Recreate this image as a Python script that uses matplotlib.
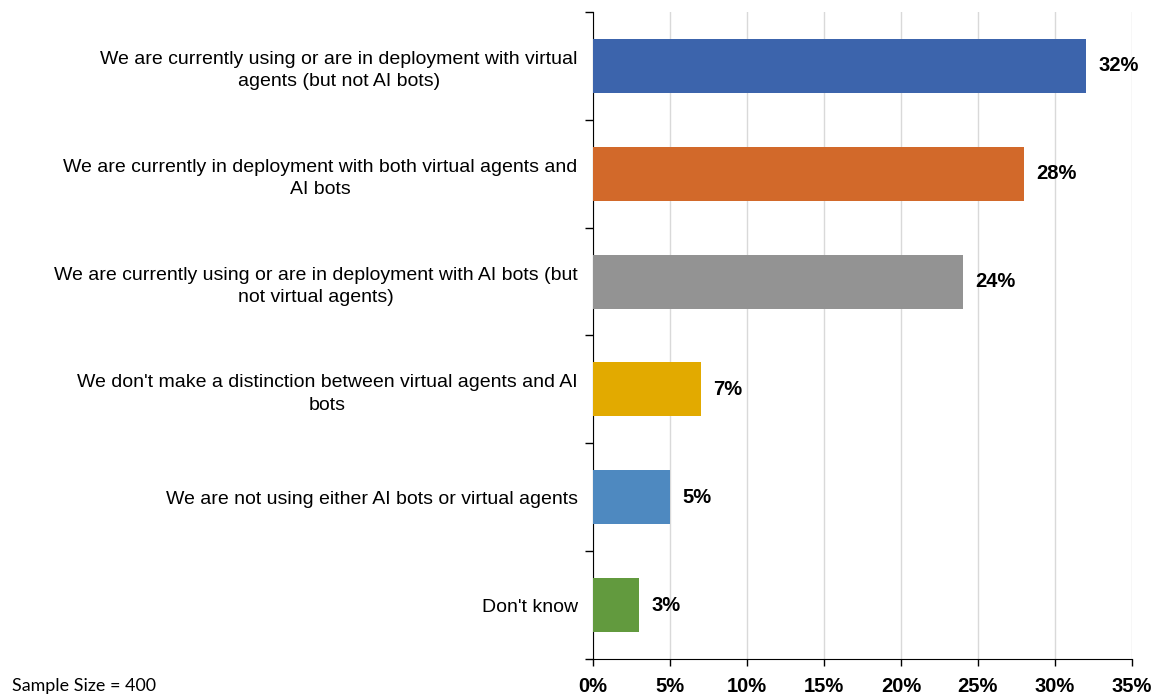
import matplotlib
matplotlib.use('Agg')
import matplotlib.pyplot as plt
from matplotlib.ticker import FixedLocator

categories = [
    'We are currently using or are in deployment with virtual\nagents (but not AI bots)',
    'We are currently in deployment with both virtual agents and\nAI bots',
    'We are currently using or are in deployment with AI bots (but\nnot virtual agents)',
    "We don't make a distinction between virtual agents and AI\nbots",
    'We are not using either AI bots or virtual agents',
    "Don't know",
]
values = [32, 28, 24, 7, 5, 3]
colors = ['#3C64AC', '#D2692A', '#939393', '#E2AA00', '#4E89C0', '#629A3E']
x_ticks = [0, 5, 10, 15, 20, 25, 30, 35]

plt.rcParams['font.family'] = ['Liberation Sans', 'DejaVu Sans']

fig = plt.figure(figsize=(11.55, 6.96), dpi=100)
ax = fig.add_axes([0.5134, 0.0532, 0.98 - 0.5134, 0.9828 - 0.0532])

ypos = list(range(len(values)))
ax.barh(ypos, values, height=0.5, color=colors, zorder=3)

for y, v in zip(ypos, values):
    ax.text(v + 0.8, y, '%d%%' % v, va='center', ha='left',
            fontsize=14.5, fontweight='bold', zorder=4)

ax.set_xlim(0, 35)
ax.set_ylim(len(values) - 0.5, -0.5)
ax.set_xticks(x_ticks)
ax.set_xticklabels(['%d%%' % t for t in x_ticks], fontsize=14.5, fontweight='bold')
ax.tick_params(axis='x', direction='out', length=5, width=1, color='black', pad=8)

ax.set_yticks(ypos)
ax.set_yticklabels(categories, fontsize=14, multialignment='center', linespacing=1.4)
ax.tick_params(axis='y', which='major', length=0, pad=11)
ax.yaxis.set_minor_locator(FixedLocator([i - 0.5 for i in range(len(values) + 1)]))
ax.tick_params(axis='y', which='minor', length=6, width=1, color='black', direction='out')

ax.grid(axis='x', color='#D9D9D9', linewidth=1, zorder=0)
for side in ['top', 'right']:
    ax.spines[side].set_visible(False)
ax.spines['left'].set_color('black')
ax.spines['bottom'].set_color('black')

fig.text(0.01, 0.003, 'Sample Size = 400', fontsize=12.9, family=['Lato', 'DejaVu Sans'],
         ha='left', va='bottom')

fig.savefig('out.png', dpi=100)
